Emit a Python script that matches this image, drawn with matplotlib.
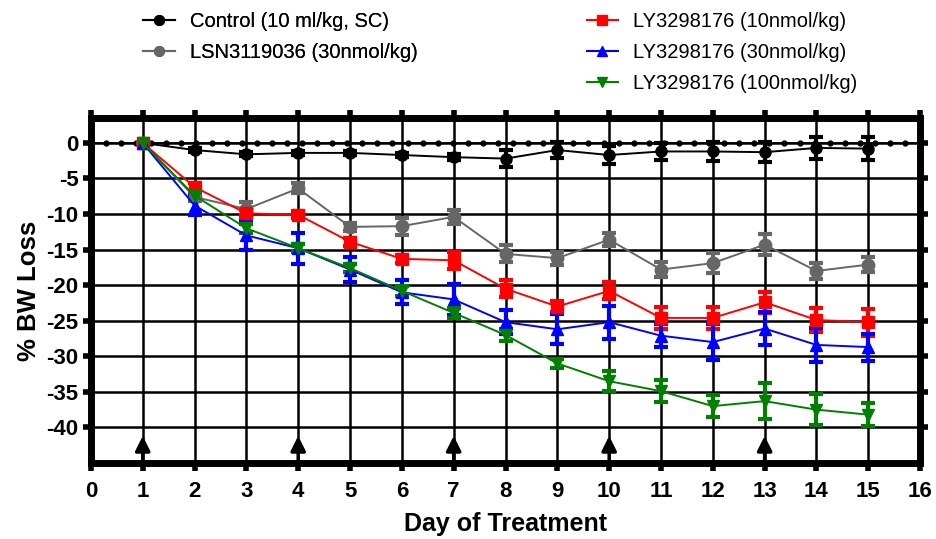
import matplotlib.pyplot as plt
from matplotlib.lines import Line2D
import numpy as np

plt.rcParams['font.family'] = ['Liberation Sans', 'DejaVu Sans']
plt.rcParams['axes.unicode_minus'] = False

days = np.arange(1, 16)

# % body weight loss per group (mean, sem)
control = [0, -1.0, -1.6, -1.4, -1.4, -1.7, -2.0, -2.2, -1.0, -1.7, -1.2, -1.2, -1.3, -0.7, -0.8]
control_err = [0, 0.3, 0.3, 0.3, 0.3, 0.3, 0.4, 1.2, 1.1, 1.3, 1.2, 1.3, 1.4, 1.5, 1.6]

lsn = [0, -7.6, -9.3, -6.4, -11.8, -11.7, -10.4, -15.6, -16.2, -13.6, -17.8, -16.9, -14.3, -18.0, -17.1]
lsn_err = [0, 0.6, 1.0, 0.7, 0.6, 1.2, 1.0, 1.2, 0.9, 0.9, 1.0, 1.4, 1.5, 1.1, 1.1]

ly10 = [0, -6.2, -9.9, -10.1, -13.9, -16.3, -16.5, -20.5, -23.0, -20.8, -24.6, -24.6, -22.4, -24.9, -25.2]
ly10_err = [0, 0.5, 0.5, 0.5, 0.6, 0.6, 1.2, 1.2, 0.8, 1.2, 1.5, 1.5, 1.5, 1.7, 1.9]

ly30 = [0, -8.8, -13.0, -14.8, -17.8, -21.0, -22.0, -25.2, -26.2, -25.2, -27.1, -28.0, -26.1, -28.4, -28.7]
ly30_err = [0, 1.3, 2.0, 2.2, 1.8, 1.7, 2.2, 1.7, 2.1, 2.3, 1.6, 2.5, 2.3, 2.4, 1.9]

ly100 = [0, -7.4, -12.0, -14.8, -17.6, -20.8, -23.9, -27.0, -31.0, -33.5, -34.9, -37.0, -36.3, -37.5, -38.2]
ly100_err = [0, 0.5, 0.6, 0.6, 0.6, 0.7, 0.7, 0.8, 0.6, 1.4, 1.5, 1.6, 2.5, 2.2, 1.6]

dose_days = [1, 4, 7, 10, 13]

fig = plt.figure(figsize=(9.37, 5.39), dpi=100)
ax = fig.add_axes([0.097, 0.141, 0.885, 0.640])

# grid
for xv in range(1, 16):
    ax.axvline(xv, color='black', lw=1.8, zorder=1)
for yv in range(-40, 1, 5):
    ax.axhline(yv, color='black', lw=1.8, zorder=1)

# dotted baseline at 0
xb = np.linspace(0, 16, 56)
ax.plot(xb, np.zeros_like(xb), color='black', lw=1.2, marker='o', ms=3.5, zorder=2)

series = [
    (control, control_err, 'black', 'o', 8, 'Control (10 ml/kg, SC)'),
    (lsn, lsn_err, '#666666', 'o', 9, 'LSN3119036 (30nmol/kg)'),
    (ly10, ly10_err, 'red', 's', 9, 'LY3298176 (10nmol/kg)'),
    (ly30, ly30_err, 'blue', '^', 8, 'LY3298176 (30nmol/kg)'),
    (ly100, ly100_err, 'green', 'v', 8, 'LY3298176 (100nmol/kg)'),
]

handles = []
for vals, errs, col, mk, ms, lab in series:
    ax.errorbar(days, vals, yerr=errs, color=col, marker=mk, ms=ms,
                lw=1.4, elinewidth=3, capsize=5, capthick=3, zorder=3)
    handles.append(Line2D([], [], color=col, marker=mk, ms=7, lw=1.5))

# dosing arrows
for d in dose_days:
    ax.annotate('', xy=(d, -40.8), xytext=(d, -45),
                arrowprops=dict(arrowstyle='-|>', color='black', lw=2.5, mutation_scale=22),
                zorder=4)

ax.set_xlim(0, 16)
ax.set_ylim(-45, 3.5)
ax.set_xticks(range(0, 17))
ax.set_yticks(range(-40, 1, 5))

for s in ax.spines.values():
    s.set_linewidth(5)

ax.tick_params(axis='both', direction='out', length=6, width=4,
               top=True, right=True, labeltop=False, labelright=False)
ax.tick_params(axis='x', pad=7)
ax.tick_params(axis='y', pad=3)
for lbl in ax.get_xticklabels() + ax.get_yticklabels():
    lbl.set_fontsize(16)
    lbl.set_fontweight('bold')

ax.set_xlabel('Day of Treatment', fontsize=18, fontweight='bold', labelpad=7)
ax.set_ylabel('% BW Loss', fontsize=18.5, fontweight='bold', labelpad=4)

leg_kw = dict(loc='upper left', frameon=False, fontsize=14.5, handlelength=1.55,
              handletextpad=0.75, labelspacing=0.6, borderpad=0, borderaxespad=0)
leg1 = fig.legend(handles[:2], [s[5] for s in series[:2]],
                  bbox_to_anchor=(0.153, 0.978), **leg_kw)
fig.add_artist(leg1)
fig.legend(handles[2:], [s[5] for s in series[2:]],
           bbox_to_anchor=(0.626, 0.978), **leg_kw)

fig.savefig('out.png', dpi=100)
